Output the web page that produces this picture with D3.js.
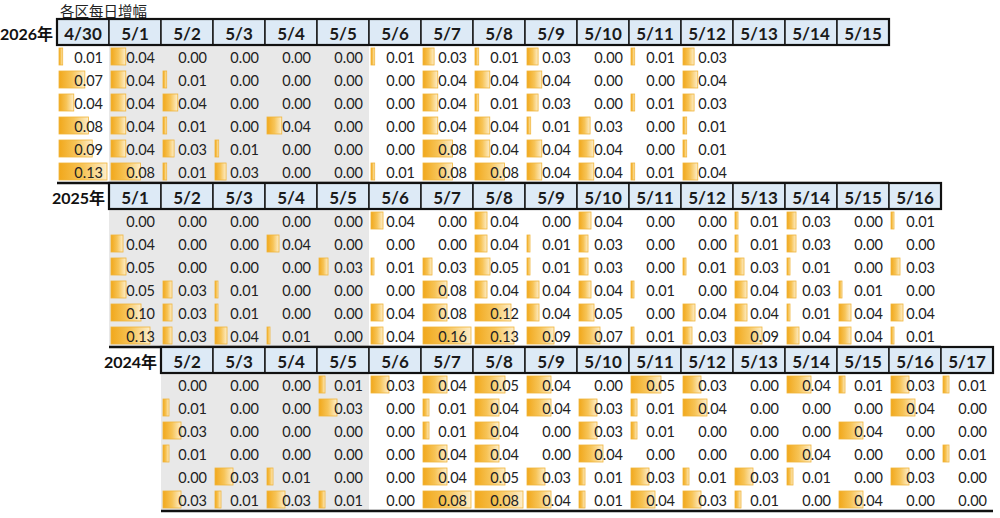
<!DOCTYPE html>
<html>
<head>
<meta charset="utf-8">
<script src="https://cdn.jsdelivr.net/npm/d3@7"></script>
<style>
  body { margin: 0; background: #fff; }
  svg text { font-family: Lato, "Noto Sans CJK SC", sans-serif; }
</style>
</head>
<body>
<div id="chart"></div>
<script>

// all dates on the shared column grid
var allDates = ["4/30","5/1","5/2","5/3","5/4","5/5","5/6","5/7","5/8","5/9","5/10","5/11","5/12","5/13","5/14","5/15","5/16","5/17"];

var dates2026 = ["4/30","5/1","5/2","5/3","5/4","5/5","5/6","5/7","5/8","5/9","5/10","5/11","5/12","5/13","5/14","5/15"];
var holiday2026 = ["5/1","5/2","5/3","5/4","5/5"];
var vals2026 = [
  [0.01,0.04,0.00,0.00,0.00,0.00,0.01,0.03,0.01,0.03,0.00,0.01,0.03],
  [0.07,0.04,0.01,0.00,0.00,0.00,0.00,0.04,0.04,0.04,0.00,0.00,0.04],
  [0.04,0.04,0.04,0.00,0.00,0.00,0.00,0.04,0.01,0.03,0.00,0.01,0.03],
  [0.08,0.04,0.01,0.00,0.04,0.00,0.00,0.04,0.04,0.01,0.03,0.00,0.01],
  [0.09,0.04,0.03,0.01,0.00,0.00,0.00,0.08,0.04,0.04,0.04,0.00,0.01],
  [0.13,0.08,0.01,0.03,0.00,0.00,0.01,0.08,0.08,0.04,0.04,0.01,0.04]
];

var dates2025 = ["5/1","5/2","5/3","5/4","5/5","5/6","5/7","5/8","5/9","5/10","5/11","5/12","5/13","5/14","5/15","5/16"];
var holiday2025 = ["5/1","5/2","5/3","5/4","5/5"];
var vals2025 = [
  [0.00,0.00,0.00,0.00,0.00,0.04,0.00,0.04,0.00,0.04,0.00,0.00,0.01,0.03,0.00,0.01],
  [0.04,0.00,0.00,0.04,0.00,0.00,0.00,0.04,0.01,0.03,0.00,0.00,0.01,0.03,0.00,0.00],
  [0.05,0.00,0.00,0.00,0.03,0.01,0.03,0.05,0.01,0.03,0.00,0.01,0.03,0.01,0.00,0.03],
  [0.05,0.03,0.01,0.00,0.00,0.00,0.08,0.04,0.04,0.04,0.01,0.00,0.04,0.03,0.01,0.00],
  [0.10,0.03,0.01,0.00,0.00,0.04,0.08,0.12,0.04,0.05,0.00,0.04,0.04,0.01,0.04,0.04],
  [0.13,0.03,0.04,0.01,0.00,0.04,0.16,0.13,0.09,0.07,0.01,0.03,0.09,0.04,0.04,0.01]
];

var dates2024 = ["5/2","5/3","5/4","5/5","5/6","5/7","5/8","5/9","5/10","5/11","5/12","5/13","5/14","5/15","5/16","5/17"];
var holiday2024 = ["5/2","5/3","5/4","5/5"];
var vals2024 = [
  [0.00,0.00,0.00,0.01,0.03,0.04,0.05,0.04,0.00,0.05,0.03,0.00,0.04,0.01,0.03,0.01],
  [0.01,0.00,0.00,0.03,0.00,0.01,0.04,0.04,0.03,0.01,0.04,0.00,0.00,0.00,0.04,0.00],
  [0.03,0.00,0.00,0.00,0.00,0.01,0.04,0.00,0.03,0.01,0.00,0.00,0.00,0.04,0.00,0.00],
  [0.01,0.00,0.00,0.00,0.00,0.04,0.04,0.00,0.04,0.00,0.00,0.00,0.04,0.00,0.00,0.01],
  [0.00,0.03,0.01,0.00,0.00,0.04,0.05,0.03,0.01,0.03,0.01,0.03,0.01,0.00,0.03,0.00],
  [0.03,0.01,0.03,0.01,0.00,0.08,0.08,0.04,0.01,0.04,0.03,0.01,0.00,0.04,0.00,0.00]
];

var tables = [
  {year: "2026年", dates: dates2026, holiday: holiday2026, vals: vals2026, top: 19},
  {year: "2025年", dates: dates2025, holiday: holiday2025, vals: vals2025, top: 183},
  {year: "2024年", dates: dates2024, holiday: holiday2024, vals: vals2024, top: 347}
];

var W = 1000, H = 518;
var headH = 26, rowH = 23;

var svg = d3.select("#chart").append("svg").attr("width", W).attr("height", H);

var defs = svg.append("defs");
var grad = defs.append("linearGradient").attr("id", "bargrad")
  .attr("x1", "0%").attr("x2", "100%").attr("y1", "0%").attr("y2", "0%");
grad.append("stop").attr("offset", "0%").attr("stop-color", "#f1a81c");
grad.append("stop").attr("offset", "50%").attr("stop-color", "#f7c457");
grad.append("stop").attr("offset", "100%").attr("stop-color", "#fdeecb");

var x = d3.scaleBand().domain(allDates).range([57, 993]).padding(0);
var cw = x.bandwidth();

// title
svg.append("text")
  .attr("x", 60).attr("y", 10)
  .attr("dominant-baseline", "central")
  .style("font-family", "'Noto Sans CJK SC', sans-serif")
  .style("font-size", "14.5px").style("fill", "#222")
  .text("各区每日增幅");

tables.forEach(function(t) {
  var g = svg.append("g");
  var rowsTop = t.top + headH;
  var y = d3.scaleBand().domain(d3.range(t.vals.length)).range([rowsTop, rowsTop + rowH * t.vals.length]);
  var left = x(t.dates[0]);
  var right = x(t.dates[t.dates.length - 1]) + cw;

  var maxV = d3.max(t.vals, function(r) { return d3.max(r); });
  var bw = d3.scaleLinear().domain([0, maxV]).range([0, cw - 4]);

  // holiday shading
  g.append("rect")
    .attr("x", x(t.holiday[0]))
    .attr("y", rowsTop)
    .attr("width", x(t.holiday[t.holiday.length - 1]) + cw - x(t.holiday[0]))
    .attr("height", rowH * t.vals.length)
    .attr("fill", "#e8e8e8");

  // header cells
  g.selectAll(".hd").data(t.dates).enter().append("rect")
    .attr("x", function(d) { return x(d); })
    .attr("y", t.top)
    .attr("width", cw).attr("height", headH)
    .attr("fill", "#ddeaf6").attr("stroke", "#1a1a1a").attr("stroke-width", 1.5);
  g.append("rect")
    .attr("x", left).attr("y", t.top)
    .attr("width", right - left).attr("height", headH)
    .attr("fill", "none").attr("stroke", "#111").attr("stroke-width", 2.2);
  g.selectAll(".ht").data(t.dates).enter().append("text")
    .attr("x", function(d) { return x(d) + cw / 2; })
    .attr("y", t.top + headH / 2 + 1)
    .attr("text-anchor", "middle").attr("dominant-baseline", "central")
    .style("font-size", "17px").style("font-weight", "bold").style("fill", "#1a1a1a")
    .text(function(d) { return d; });

  // year label
  g.append("text")
    .attr("x", left - 4).attr("y", t.top + headH / 2 + 1)
    .attr("text-anchor", "end").attr("dominant-baseline", "central")
    .style("font-size", "16px").style("font-weight", "bold").style("fill", "#111")
    .text(t.year);

  // cells
  var cells = [];
  t.vals.forEach(function(r, i) {
    r.forEach(function(v, j) { cells.push({row: i, date: t.dates[j], v: v}); });
  });

  g.selectAll(".bar").data(cells.filter(function(c) { return c.v > 0; })).enter().append("rect")
    .attr("x", function(c) { return x(c.date) + 2; })
    .attr("y", function(c) { return y(c.row) + 3; })
    .attr("width", function(c) { return bw(c.v); })
    .attr("height", rowH - 6)
    .attr("fill", "url(#bargrad)")
    .attr("stroke", "#f1b53a").attr("stroke-width", 0.8);

  g.selectAll(".val").data(cells).enter().append("text")
    .attr("x", function(c) { return x(c.date) + cw - 6; })
    .attr("y", function(c) { return y(c.row) + rowH / 2 + 1; })
    .attr("text-anchor", "end").attr("dominant-baseline", "central")
    .style("font-size", "14.5px").style("fill", "#222")
    .text(function(c) { return c.v.toFixed(2); });

  // bottom rule
  g.append("line")
    .attr("x1", left).attr("x2", right)
    .attr("y1", rowsTop + rowH * t.vals.length).attr("y2", rowsTop + rowH * t.vals.length)
    .attr("stroke", "#111").attr("stroke-width", 2.5);
});

</script>
</body>
</html>
